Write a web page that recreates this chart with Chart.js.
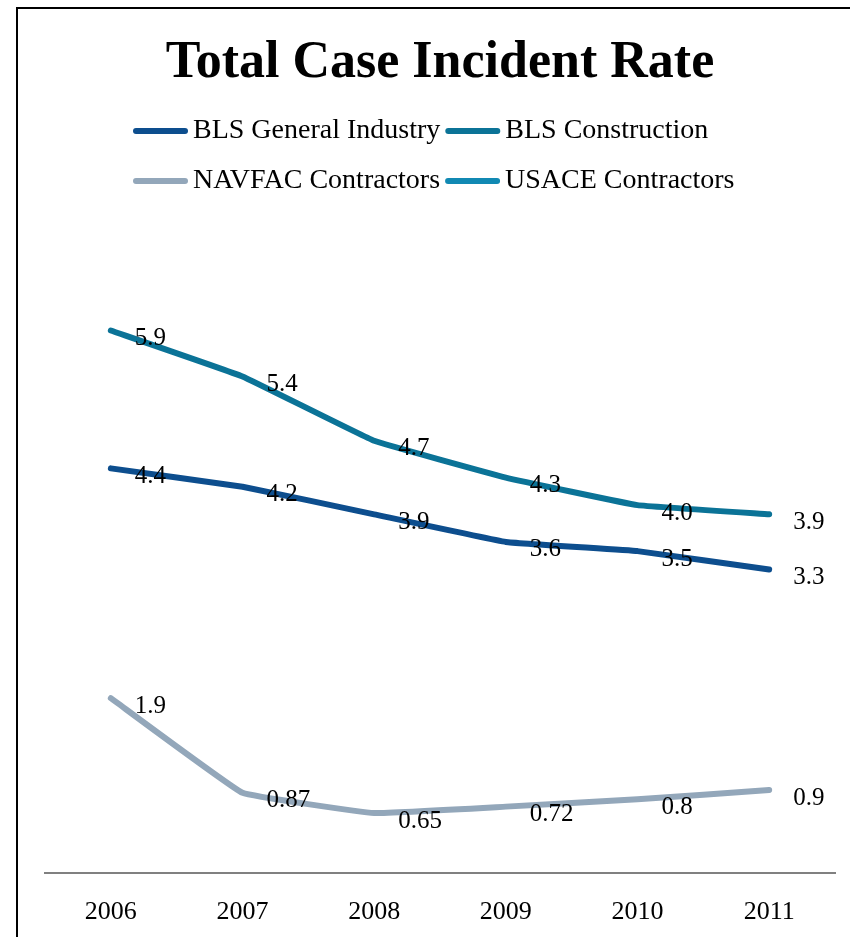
<!DOCTYPE html>
<html>
<head>
<meta charset="utf-8">
<script src="https://cdn.jsdelivr.net/npm/chart.js@4.4.1/dist/chart.umd.min.js"></script>
<style>
  html, body { margin: 0; padding: 0; background: #fff; overflow: hidden; }
  #frame { position: absolute; left: 16px; top: 7px; width: 860px; height: 970px; border: 2px solid #000; }
  #wrap { position: absolute; left: 0; top: 0; width: 834px; height: 956px; }
</style>
</head>
<body>
<div id="frame"><div id="wrap"><canvas id="incident"></canvas></div></div>
<script>
var years = ["2006", "2007", "2008", "2009", "2010", "2011"];
var blsGeneral = [4.4, 4.2, 3.9, 3.6, 3.5, 3.3];
var blsConstruction = [5.9, 5.4, 4.7, 4.3, 4.0, 3.9];
var navfac = [1.9, 0.87, 0.65, 0.72, 0.8, 0.9];
var usace = [null, null, null, null, null, null];

var serif = "'Liberation Serif', 'DejaVu Serif', serif";

// values written just right of each point
var pointLabels = {
  id: 'pointLabels',
  afterDatasetsDraw: function(chart) {
    var ctx = chart.ctx;
    ctx.save();
    ctx.font = "25px " + serif;
    ctx.fillStyle = "#000";
    ctx.textAlign = "left";
    ctx.textBaseline = "middle";
    chart.data.datasets.forEach(function(ds, i) {
      var meta = chart.getDatasetMeta(i);
      meta.data.forEach(function(pt, j) {
        var v = ds.data[j];
        if (v === null) return;
        var txt = Number.isInteger(v) ? v.toFixed(1) : String(v);
        ctx.fillText(txt, pt.x + 24, pt.y + 8);
      });
    });
    ctx.restore();
  }
};

// two-row legend, tight like the original (space reserved by title padding)
var rowLegend = {
  id: 'rowLegend',
  afterDraw: function(chart) {
    var ctx = chart.ctx;
    var rows = [[0, 1], [2, 3]];
    ctx.save();
    ctx.font = "28px " + serif;
    ctx.textBaseline = "middle";
    ctx.textAlign = "left";
    rows.forEach(function(row, r) {
      var x = 115;
      var y = 122 + r * 50;
      row.forEach(function(i) {
        var ds = chart.data.datasets[i];
        ctx.strokeStyle = ds.borderColor;
        ctx.lineWidth = 6;
        ctx.lineCap = 'round';
        ctx.beginPath();
        ctx.moveTo(x + 3, y);
        ctx.lineTo(x + 52, y);
        ctx.stroke();
        ctx.fillStyle = "#000";
        ctx.fillText(ds.label, x + 60, y);
        x += 60 + ctx.measureText(ds.label).width + 5;
      });
    });
    ctx.restore();
  }
};

var ctxIncident = document.getElementById("incident");
var incidentChart = new Chart(ctxIncident, {
  type: 'line',
  data: {
    labels: years,
    datasets: [
      { label: "BLS General Industry", data: blsGeneral, borderColor: "#0d4e8e", backgroundColor: "#0d4e8e" },
      { label: "BLS Construction", data: blsConstruction, borderColor: "#0b7397", backgroundColor: "#0b7397" },
      { label: "NAVFAC Contractors", data: navfac, borderColor: "#93a7ba", backgroundColor: "#93a7ba" },
      { label: "USACE Contractors", data: usace, borderColor: "#1189b3", backgroundColor: "#1189b3" }
    ]
  },
  options: {
    responsive: true,
    maintainAspectRatio: false,
    animation: false,
    elements: {
      line: { borderWidth: 6, tension: 0.07, borderCapStyle: 'round', borderJoinStyle: 'round', fill: false },
      point: { radius: 0, hoverRadius: 0 }
    },
    layout: { padding: { left: 27, right: 17, top: 0, bottom: 13 } },
    scales: {
      x: {
        offset: true,
        grid: { display: false, drawTicks: false },
        border: { display: true, color: "#808080", width: 2 },
        ticks: { color: "#000", padding: 24, font: { family: serif, size: 26 } }
      },
      y: {
        display: false,
        min: 0,
        max: 7
      }
    },
    plugins: {
      title: {
        display: true,
        text: 'Total Case Incident Rate',
        color: "#000",
        font: { family: serif, size: 52, weight: 'bold' },
        padding: { top: 23, bottom: 135 }
      },
      legend: { display: false },
      tooltip: { enabled: false }
    }
  },
  plugins: [pointLabels, rowLegend]
});
</script>
</body>
</html>
